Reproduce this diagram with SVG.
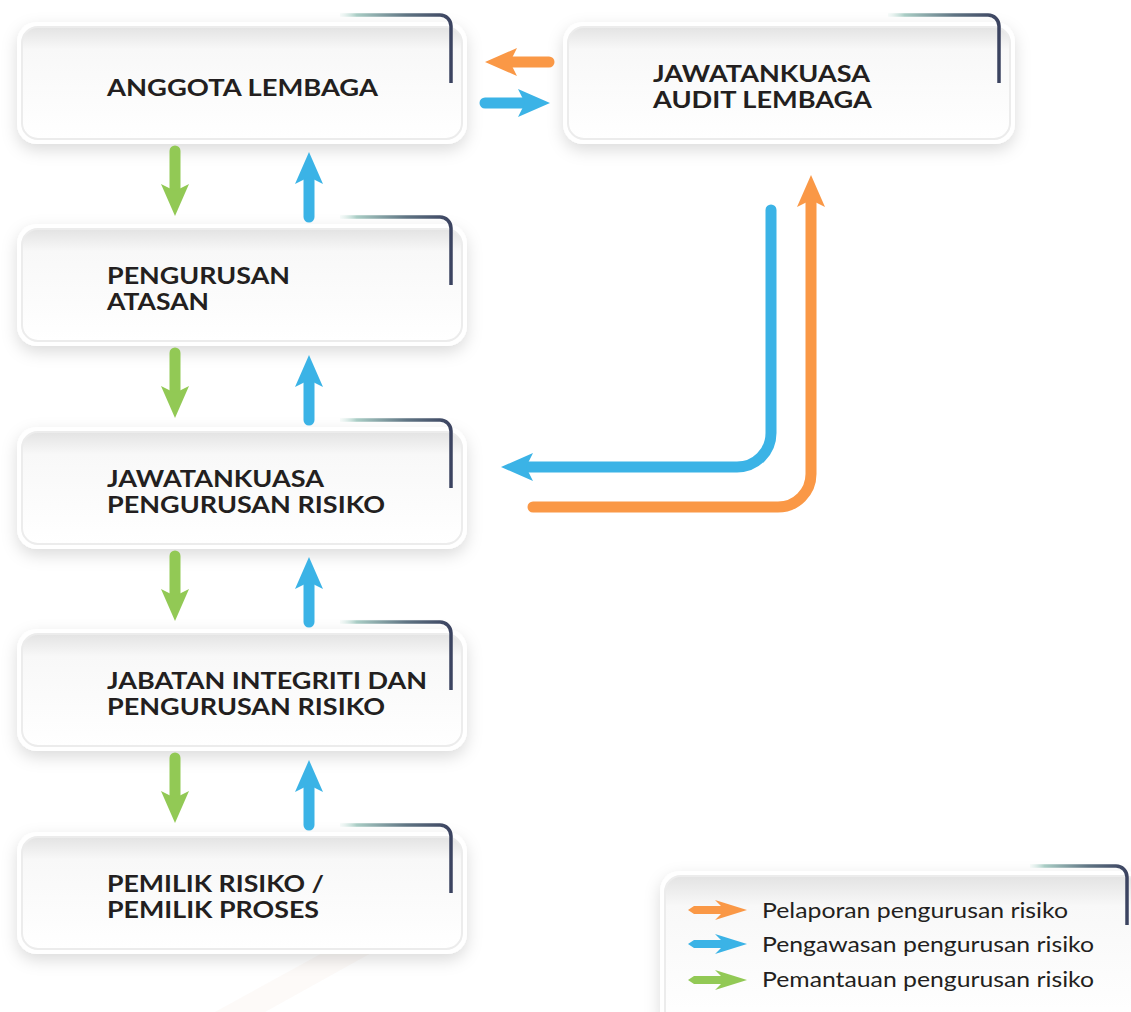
<svg xmlns="http://www.w3.org/2000/svg" xmlns:xlink="http://www.w3.org/1999/xlink" width="1131" height="1012" viewBox="0 0 1131 1012">
<style>
.outer{fill:#ffffff;filter:url(#sh)}
.inner{fill:url(#ig);stroke:#ececec;stroke-width:2}
.deco{fill:none;stroke:url(#dg);stroke-width:3.5}
.t{font-family:Lato,"Liberation Sans",sans-serif;font-weight:700;font-size:23px;fill:#231f20}
.lg{font-family:Lato,"Liberation Sans",sans-serif;font-weight:400;font-size:21px;fill:#231f20}
.ln{fill:none;stroke-width:11;stroke-linecap:round;stroke-linejoin:round}
.g{stroke:#92c955}.b{stroke:#3bb3e6}.o{stroke:#fa9846}
.gf{fill:#92c955}.bf{fill:#3bb3e6}.of{fill:#fa9846}
</style>
<defs>
<filter id="sh" x="-10%" y="-30%" width="120%" height="170%">
<feDropShadow dx="0" dy="6" stdDeviation="8" flood-color="#000" flood-opacity="0.14"/>
</filter>
<linearGradient id="ig" x1="0" y1="0" x2="0" y2="1">
<stop offset="0" stop-color="#e3e3e3"/>
<stop offset="0.2" stop-color="#f8f8f8"/>
<stop offset="1" stop-color="#ffffff"/>
</linearGradient>
<linearGradient id="dg" x1="0" y1="0" x2="1" y2="0">
<stop offset="0" stop-color="#d5ebe5" stop-opacity="0.2"/>
<stop offset="0.15" stop-color="#a9cdc5"/>
<stop offset="0.6" stop-color="#5f7483"/>
<stop offset="1" stop-color="#3b4360"/>
</linearGradient>
<path id="hd" d="M0,0 L-32,-14 L-25,0 L-32,14 Z"/>
<path id="lga" d="M0,0 L6,-4 L33,-4 L27,-10 L59,0 L27,10 L33,4 L6,4 Z"/>
</defs>
<rect width="1131" height="1012" fill="#ffffff"/>
<path d="M215,1012 L410,905 L445,912 L265,1012 Z" fill="#f6ede2" opacity="0.25"/>

<g id="node-anggota">
<rect class="outer" x="17" y="22" width="450" height="122" rx="20"/>
<rect class="inner" x="22" y="27" width="440" height="112" rx="16"/>
<path class="deco" d="M340,15 H440 A11,11 0 0 1 451,26 V83"/>
<text class="t" x="107" y="96" textLength="271" lengthAdjust="spacingAndGlyphs">ANGGOTA LEMBAGA</text>
</g>
<g id="node-audit">
<rect class="outer" x="563" y="22" width="452" height="122" rx="20"/>
<rect class="inner" x="568" y="27" width="442" height="112" rx="16"/>
<path class="deco" d="M888,15 H988 A11,11 0 0 1 999,26 V83"/>
<text class="t" x="653" y="82" textLength="217" lengthAdjust="spacingAndGlyphs">JAWATANKUASA</text>
<text class="t" x="653" y="108" textLength="219" lengthAdjust="spacingAndGlyphs">AUDIT LEMBAGA</text>
</g>
<g id="node-atasan">
<rect class="outer" x="17" y="224" width="450" height="122" rx="20"/>
<rect class="inner" x="22" y="229" width="440" height="112" rx="16"/>
<path class="deco" d="M340,217 H440 A11,11 0 0 1 451,228 V285"/>
<text class="t" x="107" y="284" textLength="183" lengthAdjust="spacingAndGlyphs">PENGURUSAN</text>
<text class="t" x="107" y="310" textLength="102" lengthAdjust="spacingAndGlyphs">ATASAN</text>
</g>
<g id="node-jkrisiko">
<rect class="outer" x="17" y="427" width="450" height="122" rx="20"/>
<rect class="inner" x="22" y="432" width="440" height="112" rx="16"/>
<path class="deco" d="M340,420 H440 A11,11 0 0 1 451,431 V488"/>
<text class="t" x="107" y="487" textLength="217" lengthAdjust="spacingAndGlyphs">JAWATANKUASA</text>
<text class="t" x="107" y="513" textLength="278" lengthAdjust="spacingAndGlyphs">PENGURUSAN RISIKO</text>
</g>
<g id="node-jabatan">
<rect class="outer" x="17" y="629" width="450" height="122" rx="20"/>
<rect class="inner" x="22" y="634" width="440" height="112" rx="16"/>
<path class="deco" d="M340,622 H440 A11,11 0 0 1 451,633 V690"/>
<text class="t" x="107" y="689" textLength="320" lengthAdjust="spacingAndGlyphs">JABATAN INTEGRITI DAN</text>
<text class="t" x="107" y="715" textLength="278" lengthAdjust="spacingAndGlyphs">PENGURUSAN RISIKO</text>
</g>
<g id="node-pemilik">
<rect class="outer" x="17" y="832" width="450" height="122" rx="20"/>
<rect class="inner" x="22" y="837" width="440" height="112" rx="16"/>
<path class="deco" d="M340,825 H440 A11,11 0 0 1 451,836 V893"/>
<text class="t" x="107" y="892" textLength="217" lengthAdjust="spacingAndGlyphs">PEMILIK RISIKO /</text>
<text class="t" x="107" y="918" textLength="212" lengthAdjust="spacingAndGlyphs">PEMILIK PROSES</text>
</g>

<g id="connectors">
<line class="ln g" x1="175" y1="151" x2="175" y2="192"/>
<use href="#hd" class="gf" transform="translate(175,216) rotate(90)"/>
<line class="ln b" x1="309" y1="217" x2="309" y2="176"/>
<use href="#hd" class="bf" transform="translate(309,152) rotate(-90)"/>

<line class="ln g" x1="175" y1="353" x2="175" y2="394"/>
<use href="#hd" class="gf" transform="translate(175,418) rotate(90)"/>
<line class="ln b" x1="309" y1="420" x2="309" y2="379"/>
<use href="#hd" class="bf" transform="translate(309,355) rotate(-90)"/>

<line class="ln g" x1="175" y1="556" x2="175" y2="597"/>
<use href="#hd" class="gf" transform="translate(175,621) rotate(90)"/>
<line class="ln b" x1="309" y1="622" x2="309" y2="581"/>
<use href="#hd" class="bf" transform="translate(309,557) rotate(-90)"/>

<line class="ln g" x1="175" y1="758" x2="175" y2="799"/>
<use href="#hd" class="gf" transform="translate(175,823) rotate(90)"/>
<line class="ln b" x1="309" y1="825" x2="309" y2="784"/>
<use href="#hd" class="bf" transform="translate(309,760) rotate(-90)"/>

<line class="ln o" x1="549" y1="62" x2="509" y2="62"/>
<use href="#hd" class="of" transform="translate(485,62) rotate(180)"/>
<line class="ln b" x1="485" y1="103" x2="526" y2="103"/>
<use href="#hd" class="bf" transform="translate(550,103)"/>

<path class="ln b" d="M771,210 V433 A34,34 0 0 1 737,467 H526"/>
<use href="#hd" class="bf" transform="translate(501,467) rotate(180)"/>
<path class="ln o" d="M533,507 H778 A33,33 0 0 0 811,474 V199"/>
<use href="#hd" class="of" transform="translate(811,175) rotate(-90)"/>
</g>

<g id="legend">
<rect class="outer" x="660" y="871" width="485" height="160" rx="20"/>
<rect class="inner" x="665" y="876" width="475" height="150" rx="16"/>
<path class="deco" d="M1030,866 H1116 A11,11 0 0 1 1127,877 V925"/>
<use href="#lga" class="of" transform="translate(688,910)"/>
<use href="#lga" class="bf" transform="translate(688,944)"/>
<use href="#lga" class="gf" transform="translate(688,980)"/>
<text class="lg" x="762" y="918" textLength="306" lengthAdjust="spacingAndGlyphs">Pelaporan pengurusan risiko</text>
<text class="lg" x="762" y="952" textLength="332" lengthAdjust="spacingAndGlyphs">Pengawasan pengurusan risiko</text>
<text class="lg" x="762" y="987" textLength="332" lengthAdjust="spacingAndGlyphs">Pemantauan pengurusan risiko</text>
</g>
</svg>
